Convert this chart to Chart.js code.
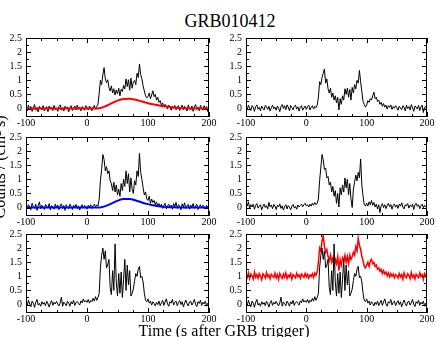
<!DOCTYPE html>
<html>
<head>
<meta charset="utf-8">
<script src="https://cdn.jsdelivr.net/npm/chart.js@4.4.1/dist/chart.umd.min.js"></script>
<style>
  body { margin: 0; background: #fff; }
  #wrap { position: relative; width: 436px; height: 337px; overflow: hidden; background: #fff; font-family: "Liberation Serif", "DejaVu Serif", serif; color: #000; }
  canvas { position: absolute; }
  .txt { position: absolute; white-space: nowrap; }
  #title { left: 130px; width: 200px; top: 12px; font-size: 18px; line-height: 18px; text-align: center; }
  #xlab { left: 74px; width: 300px; top: 323px; font-size: 16px; line-height: 16px; text-align: center; }
  #ylab { left: -100px; width: 200px; top: 159px; font-size: 16px; line-height: 16px; text-align: center; transform: rotate(-90deg); }
</style>
</head>
<body>
<div id="wrap">
  <div id="title" class="txt">GRB010412</div>
  <canvas id="c1" width="220" height="105" style="left:0px;top:28px"></canvas>
  <canvas id="c2" width="216" height="105" style="left:220px;top:28px"></canvas>
  <canvas id="c3" width="220" height="105" style="left:0px;top:127px"></canvas>
  <canvas id="c4" width="216" height="105" style="left:220px;top:127px"></canvas>
  <canvas id="c5" width="220" height="105" style="left:0px;top:224px"></canvas>
  <canvas id="c6" width="216" height="105" style="left:220px;top:224px"></canvas>
  <div id="ylab" class="txt">Counts / (cm² s)</div>
  <div id="xlab" class="txt">Time (s after GRB trigger)</div>
</div>
<script>
// light curves, 2 s bins starting at -100 s
const binStart = -100;
const binWidth = 2;

const xMajor = [-100, 0, 100, 200];
const xMinor = [-75, -50, -25, 25, 50, 75, 125, 150, 175];
const yMajor = [0, 0.5, 1, 1.5, 2, 2.5];
const yMinor = [-0.25, 0.25, 0.75, 1.25, 1.75, 2.25];
const yMin = -0.3;
const yMax = 2.5;

// top left
const burstA = [
  0.05,-0.08,0.12,-0.03,0.07,-0.10,0.02,0.14,-0.06,0.04,-0.12,0.08,0.01,-0.05,0.10,-0.09,0.03,0.06,-0.11,0.09,-0.02,0.05,-0.07,0.11,-0.04,
  0.02,-0.10,0.07,0.13,-0.06,0.03,-0.09,0.08,-0.01,0.06,-0.12,0.04,0.10,-0.07,0.02,0.09,-0.05,0.12,-0.03,0.05,-0.08,0.07,0.01,-0.06,0.10,
  0.03,-0.05,0.09,0.02,-0.08,0.06,0.11,-0.02,0.08,0.15,0.55,1.00,0.85,1.20,1.45,1.05,0.92,1.02,0.75,0.62,0.80,0.55,0.70,0.48,0.66,
  0.52,0.72,0.45,0.68,0.60,0.82,0.70,1.05,0.78,1.02,0.65,1.08,0.72,0.95,1.00,0.85,1.25,1.10,1.58,1.20,1.05,0.80,0.62,0.45,0.38,
  0.42,0.55,0.35,0.48,0.63,0.42,0.50,0.30,0.40,0.22,0.28,0.12,0.20,0.05,0.15,0.08,-0.02,0.12,0.04,-0.06,0.09,0.01,0.11,-0.04,0.06,
  0.10,-0.07,0.03,0.12,-0.05,0.08,0.00,-0.09,0.13,0.02,-0.04,0.09,-0.10,0.06,0.14,-0.03,0.05,-0.08,0.11,0.01,-0.06,0.10,-0.02,0.07,-0.11,
  0.04
];

// top right
const burstB = [
  0.08,-0.04,0.12,0.02,-0.07,0.10,0.05,-0.10,0.07,0.13,-0.02,0.04,-0.08,0.09,0.01,-0.05,0.11,0.06,-0.03,0.08,-0.09,0.03,0.12,-0.01,0.05,
  -0.06,0.09,0.02,-0.11,0.07,0.14,0.00,0.10,-0.04,0.13,0.05,-0.08,0.11,0.03,-0.05,0.08,0.12,-0.02,0.06,-0.09,0.04,0.10,-0.06,0.02,0.09,
  -0.03,0.07,0.12,-0.05,0.04,0.10,-0.02,0.08,0.03,0.12,0.40,0.95,0.85,1.10,1.25,1.40,0.90,1.05,0.70,0.55,0.72,0.40,0.55,0.30,0.45,
  0.20,0.40,-0.05,0.35,0.15,0.45,0.30,0.70,0.50,0.72,0.40,0.68,0.30,0.75,0.55,0.85,0.70,1.00,0.90,1.35,0.95,0.60,0.25,0.15,0.05,
  0.12,0.28,0.22,0.35,0.30,0.45,0.58,0.35,0.40,0.25,0.30,0.15,0.22,0.08,0.18,0.05,0.12,-0.02,0.10,0.04,0.13,-0.03,0.07,0.01,0.10,
  0.03,-0.06,0.08,0.02,-0.04,0.10,0.05,-0.08,0.12,0.00,0.07,-0.05,0.14,0.03,-0.10,0.09,0.05,-0.02,0.11,-0.07,0.06,0.12,-0.14,0.04,0.08,
  -0.12
];

// middle left
const burstC = [
  0.18,-0.05,0.10,0.02,-0.08,0.15,0.04,-0.03,0.12,-0.10,0.06,0.20,-0.04,0.08,0.01,-0.07,0.11,0.05,-0.02,0.14,-0.09,0.07,0.03,-0.06,0.12,
  0.00,0.09,-0.08,0.05,0.13,-0.03,0.07,-0.10,0.10,0.02,-0.05,0.12,0.04,-0.07,0.08,0.01,0.11,-0.04,0.06,-0.09,0.03,0.10,-0.02,0.07,0.04,
  -0.06,0.08,0.02,0.10,-0.04,0.06,0.12,0.03,0.09,0.05,0.30,0.95,1.35,1.88,1.70,1.30,1.45,1.20,1.30,0.95,0.85,0.60,0.90,0.55,0.80,
  0.45,0.65,0.40,0.85,0.60,1.00,0.75,1.30,0.85,1.20,0.55,1.05,0.65,0.50,0.95,0.80,1.30,1.10,1.92,1.25,1.00,0.70,0.45,0.55,0.30,
  0.25,0.40,0.15,0.30,0.18,0.25,0.08,0.20,0.05,0.14,0.02,0.12,-0.03,0.08,0.15,-0.05,0.06,0.12,0.00,0.09,-0.06,0.14,0.03,0.18,-0.02,
  0.10,0.05,-0.08,0.13,0.02,0.17,-0.04,0.07,0.11,-0.06,0.09,0.01,0.14,-0.03,0.06,0.12,-0.07,0.04,0.10,-0.01,0.08,0.03,-0.05,0.07,0.02,
  0.05
];

// middle right
const burstD = [
  0.15,0.05,0.20,-0.03,0.10,0.02,0.12,-0.06,0.08,0.14,-0.02,0.06,0.10,-0.08,0.04,0.12,0.00,0.07,-0.05,0.18,0.03,0.09,-0.04,0.11,0.05,
  -0.07,0.08,0.02,0.13,-0.03,0.06,-0.09,0.04,0.10,-0.05,0.07,0.01,-0.08,0.05,0.11,-0.02,0.04,-0.06,0.09,0.02,0.07,0.12,0.03,0.10,0.15,
  0.06,0.10,0.02,0.12,0.05,0.15,0.08,0.18,0.10,0.14,0.30,0.95,1.40,1.88,1.70,1.35,1.40,1.05,1.10,0.80,0.90,0.55,0.75,0.40,0.60,
  0.15,0.50,0.02,0.70,0.45,0.80,0.55,1.05,0.70,1.00,0.45,0.85,0.30,0.00,0.65,0.90,1.15,0.95,1.25,1.05,1.72,0.80,0.40,0.10,0.05,
  0.15,0.05,0.20,0.10,0.25,0.08,0.18,0.02,0.12,-0.05,0.10,-0.18,0.06,0.14,0.00,0.10,-0.04,0.08,0.15,0.02,0.11,-0.06,0.07,0.13,0.01,
  0.09,-0.03,0.12,0.05,0.17,0.02,-0.05,0.10,0.06,0.14,-0.02,0.08,0.03,0.12,-0.07,0.09,0.15,0.04,0.10,-0.04,0.06,0.12,-0.01,0.08,0.03,
  0.10
];

// bottom panels, all channels
const burstAll = [
  0.10,-0.05,0.15,0.02,-0.08,0.12,0.05,-0.10,0.08,0.18,-0.02,0.04,-0.06,0.10,0.01,0.07,-0.04,0.12,0.03,-0.09,0.06,0.14,-0.03,0.08,0.02,
  0.11,0.02,-0.05,0.06,0.26,-0.06,0.09,0.03,-0.04,0.12,0.05,-0.06,0.10,0.02,0.15,-0.03,0.07,0.11,0.04,-0.02,0.13,0.06,0.20,0.09,0.14,
  0.08,0.18,0.05,0.15,0.10,0.22,0.12,0.28,0.15,0.25,0.40,1.30,1.75,2.00,1.60,1.90,1.30,1.40,1.60,0.60,0.35,1.20,0.50,2.15,0.80,
  0.30,1.10,0.40,1.15,0.25,0.90,1.60,0.50,1.40,0.70,1.20,0.30,0.40,0.55,0.85,1.10,1.00,1.25,1.35,0.95,1.00,0.80,0.40,0.15,0.10,
  0.20,0.05,0.12,-0.02,0.10,0.04,-0.05,0.08,0.00,0.12,-0.04,0.06,0.15,-0.03,0.09,0.20,0.02,-0.06,0.10,0.05,0.18,-0.02,0.08,0.12,-0.04,
  0.07,0.14,0.00,0.10,-0.08,0.05,0.16,0.03,-0.05,0.09,0.12,-0.02,0.06,0.18,0.01,-0.07,0.10,0.04,0.15,-0.03,0.08,0.02,0.12,-0.06,0.05,
  0.09
];

// bottom right, red curve (offset by 1)
const burstOffset = [
  1.05,0.95,1.12,0.92,1.08,1.02,0.90,1.15,0.97,1.06,0.93,1.10,1.00,0.88,1.09,1.03,0.94,1.13,0.98,1.05,0.91,1.07,1.01,0.96,1.11,
  0.94,1.06,0.89,1.10,1.00,0.93,1.08,0.97,1.12,0.92,1.04,0.98,1.09,0.90,1.06,1.01,0.95,1.11,0.99,1.05,0.93,1.08,1.02,0.96,1.10,
  0.98,1.07,0.94,1.05,1.00,1.09,0.96,1.12,1.04,1.15,1.50,2.00,1.90,2.25,2.45,2.05,1.85,1.95,1.70,1.55,1.75,1.50,1.65,1.35,1.60,
  1.45,1.70,1.20,1.60,1.40,1.65,1.55,1.75,1.50,1.70,1.45,1.75,1.60,1.70,1.85,1.75,2.05,1.90,2.35,2.10,1.95,1.70,1.55,1.35,1.30,
  1.40,1.50,1.35,1.55,1.60,1.45,1.50,1.35,1.40,1.25,1.30,1.18,1.25,1.10,1.20,1.08,1.15,1.02,1.12,0.98,1.10,1.00,1.08,0.95,1.06,
  1.02,0.94,1.10,0.98,1.06,0.90,1.12,1.00,0.95,1.09,1.03,0.92,1.14,0.97,1.05,0.91,1.08,1.01,0.95,1.12,0.99,1.06,0.89,1.10,1.03,
  0.96
];

// smooth model curves
const modelTime = [-100,-90,-80,-70,-60,-50,-40,-30,-20,-10,0,10,20,30,40,50,60,70,80,90,100,110,120,130,140,150,160,170,180,190,200];
const modelRed  = [0,0,0,0,0,0,0,0,0,0,0,0,0.01,0.08,0.18,0.28,0.34,0.35,0.31,0.25,0.19,0.14,0.10,0.07,0.04,0.02,0.01,0,0,0,0];
const modelBlue = [0,0,0,0,0,0,0,0,0,0,0,0,0.00,0.05,0.14,0.24,0.30,0.30,0.25,0.18,0.12,0.07,0.04,0.02,0.01,0,0,0,0,0,0];

const tickFont = { family: 'Liberation Serif', size: 10 };

function binned(ys) {
  return ys.map((v, i) => ({ x: binStart + i * binWidth, y: v }));
}
function paired(xs, ys) {
  return ys.map((v, i) => ({ x: xs[i], y: v }));
}

// box frame with inward ticks on all four sides
const frameTicks = {
  id: 'frameTicks',
  afterDatasetsDraw(chart) {
    const ctx = chart.ctx;
    const a = chart.chartArea;
    const sx = chart.scales.x, sy = chart.scales.y;
    ctx.save();
    ctx.strokeStyle = '#000';
    ctx.lineWidth = 1;
    ctx.strokeRect(a.left + 0.5, a.top + 0.5, a.right - a.left - 1, a.bottom - a.top - 1);
    ctx.beginPath();
    function xt(v, len) {
      const p = Math.round(sx.getPixelForValue(v)) + 0.5;
      ctx.moveTo(p, a.bottom); ctx.lineTo(p, a.bottom - len);
      ctx.moveTo(p, a.top); ctx.lineTo(p, a.top + len);
    }
    function yt(v, len) {
      const p = Math.round(sy.getPixelForValue(v)) + 0.5;
      ctx.moveTo(a.left, p); ctx.lineTo(a.left + len, p);
      ctx.moveTo(a.right, p); ctx.lineTo(a.right - len, p);
    }
    xMajor.forEach(v => xt(v, 5));
    xMinor.forEach(v => xt(v, 3));
    yMajor.forEach(v => yt(v, 5));
    yMinor.filter(v => v > yMin).forEach(v => yt(v, 3));
    ctx.stroke();
    ctx.restore();
  }
};

function line(points, color, width) {
  return {
    data: points,
    borderColor: color,
    borderWidth: width,
    pointRadius: 0,
    fill: false,
    tension: 0
  };
}
function smooth(points, color, width) {
  const d = line(points, color, width);
  d.cubicInterpolationMode = 'monotone';
  return d;
}

function makePanel(id, datasets, rightPad) {
  new Chart(document.getElementById(id), {
    type: 'line',
    data: { datasets: datasets },
    options: {
      responsive: false,
      animation: false,
      devicePixelRatio: 1,
      layout: { padding: { top: 6, right: rightPad, left: 0, bottom: 0 } },
      plugins: { legend: { display: false }, tooltip: { enabled: false }, title: { display: false } },
      scales: {
        x: {
          type: 'linear', min: -100, max: 200,
          grid: { display: false, drawTicks: false },
          border: { display: false },
          afterBuildTicks: s => { s.ticks = xMajor.map(v => ({ value: v })); },
          afterFit: s => { s.height = 16; },
          ticks: { padding: 0, color: '#000', font: tickFont, maxRotation: 0, autoSkip: false, callback: v => String(v) }
        },
        y: {
          min: yMin, max: yMax,
          grid: { display: false, drawTicks: false },
          border: { display: false },
          afterBuildTicks: s => { s.ticks = yMajor.map(v => ({ value: v })); },
          afterFit: s => { s.width = 26; },
          ticks: { padding: 4, color: '#000', font: tickFont, autoSkip: false, callback: v => String(v) }
        }
      }
    },
    plugins: [frameTicks]
  });
}

makePanel('c1', [smooth(paired(modelTime, modelRed), '#ff0000', 2), line(binned(burstA), '#000', 1)], 11);
makePanel('c2', [line(binned(burstB), '#000', 1)], 9);
makePanel('c3', [smooth(paired(modelTime, modelBlue), '#0000ff', 2), line(binned(burstC), '#000', 1)], 11);
makePanel('c4', [line(binned(burstD), '#000', 1)], 9);
makePanel('c5', [line(binned(burstAll), '#000', 1)], 11);
makePanel('c6', [line(binned(burstAll), '#000', 1), line(binned(burstOffset), '#ff0000', 1.5)], 9);
</script>
</body>
</html>
